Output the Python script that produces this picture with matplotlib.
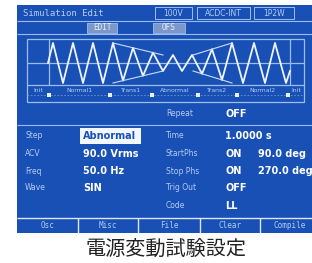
import matplotlib as mpl
import matplotlib.pyplot as plt
from matplotlib.patches import Rectangle

mpl.rcParams['font.family'] = ['DejaVu Sans']

# header / tabs
header_title = 'Simulation Edit'
header_boxes = ['100V', 'ACDC-INT', '1P2W']
mode_boxes = ['EDIT', 'OFS']

# waveform preview: vertices (time, amplitude)
wave_t = [21, 26, 36, 46, 56, 66, 76, 86, 96, 106, 116, 126, 136, 146, 155, 165,
          175, 185, 195, 205, 216, 227, 238, 248, 259, 263]
wave_a = [0.0, 1.0, -1.0, 1.0, -1.0, 1.0, -1.0, 1.0, -0.88, 0.76, -0.64, 0.52, -0.4, 0.4, -0.4, 0.4,
          -0.54, 0.69, -0.85, 1.0, -1.0, 1.0, -1.0, 1.0, -1.0, -0.4]
env_t = [[86, 136], [166, 205]]
env_top = [[1.0, 0.4], [0.4, 1.0]]
env_bot = [[-1.0, -0.4], [-0.4, -1.0]]
seg_names = ['Init', 'Normal1', 'Trans1', 'Abnormal', 'Trans2', 'Normal2', 'Init']
seg_edges = [0, 22, 83, 125, 171, 210, 261, 277]

# parameters
left_labels = ['Step', 'ACV', 'Freq', 'Wave']
left_values = ['Abnormal', '90.0 Vrms', '50.0 Hz', 'SIN']
right_labels = ['Repeat', 'Time', 'StartPhs', 'Stop Phs', 'Trig Out', 'Code']
right_values = ['OFF', '1.0000 s', 'ON', 'ON', 'OFF', 'LL']
right_extra = ['', '', '90.0 deg', '270.0 deg', '', '']
buttons = ['Osc', 'Misc', 'File', 'Clear', 'Compile']
caption = '電源変動試験設定'

BLUE = '#1850b5'
LINE = '#9bbdf0'
LBL = '#b4cdf3'
VAL = '#ffffff'

fig = plt.figure(figsize=(3.12, 2.63), dpi=100)
ax = fig.add_axes([0, 0, 1, 1])
ax.set_xlim(0, 312)
ax.set_ylim(263, 0)
ax.axis('off')

# screen background
ax.add_patch(Rectangle((17, 5), 295, 228, facecolor=BLUE, edgecolor='none'))

# header rows
ax.hlines([20.5, 33.5], 17, 312, color=LINE, lw=0.8)
ax.text(23, 13, header_title, color=LBL, fontsize=6.5, family='DejaVu Sans Mono', va='center')
hx = [(155, 192), (197, 250), (254, 294)]
for (x0, x1), s in zip(hx, header_boxes):
    ax.add_patch(Rectangle((x0, 6.5), x1 - x0, 12.5, facecolor='none', edgecolor=LINE, lw=0.7))
    ax.text((x0 + x1) / 2, 13, s, color=LBL, fontsize=5.5, ha='center', va='center')
mx = [(87, 117), (153, 185)]
for (x0, x1), s in zip(mx, mode_boxes):
    ax.add_patch(Rectangle((x0, 22.5), x1 - x0, 10, facecolor='#7d98c8', edgecolor=LINE, lw=0.6))
    ax.text((x0 + x1) / 2, 27.7, s, color='#e8eefa', fontsize=5.5, ha='center', va='center',
            family='DejaVu Sans Mono')

# waveform panel
ax.add_patch(Rectangle((26.5, 39), 277, 63, facecolor='none', edgecolor=LINE, lw=0.9))
ax.hlines([125], 17, 312, color=LINE, lw=0.8)

wax = fig.add_axes([27 / 312, 1 - 102 / 263, 277 / 312, 63 / 263])
wax.set_xlim(0, 277)
wax.set_ylim(-1.95, 1.2)
wax.axis('off')
wax.axhline(0, color=LINE, lw=0.9)
wax.axhline(-1.1, color=LINE, lw=0.9)
wax.vlines([seg_edges[1], seg_edges[6] + 2], -1.1, 1.2, color=LINE, lw=0.9)
wax.plot(wave_t, wave_a, color='#eef4ff', lw=1.3)
for t, top, bot in zip(env_t, env_top, env_bot):
    wax.plot(t, top, color='#c9dbf8', lw=0.8)
    wax.plot(t, bot, color='#c9dbf8', lw=0.8)
wax.hlines(-1.6, 0, 277, color='#6f93d6', lw=0.6, linestyles=(0, (2, 2)))
wax.plot(seg_edges[1:-1], [-1.6] * (len(seg_edges) - 2), 's', color='#e8f0ff', ms=2.2, mew=0)
for i, name in enumerate(seg_names):
    wax.text((seg_edges[i] + seg_edges[i + 1]) / 2, -1.38, name, color=LBL, fontsize=4.4,
             ha='center', va='center', clip_on=False)

# parameter rows
rows = [136, 154, 171, 188, 206]
for y, lab, val in zip(rows, left_labels, left_values):
    ax.text(25, y, lab, color=LBL, fontsize=5.5, va='center')
    if val == 'Abnormal':
        ax.add_patch(Rectangle((80, y - 8), 61, 16, facecolor='#f2f6ff', edgecolor='none'))
        ax.text(83, y, val, color=BLUE, fontsize=7, fontweight='bold', va='center')
    else:
        ax.text(83, y, val, color=VAL, fontsize=7, fontweight='bold', va='center')

ry = [114] + rows
for y, lab, val, ext in zip(ry, right_labels, right_values, right_extra):
    ax.text(166, y, lab, color=LBL, fontsize=5.5, va='center')
    ax.text(225, y, val, color=VAL, fontsize=7, fontweight='bold', va='center')
    if ext:
        ax.text(258, y, ext, color=VAL, fontsize=7, fontweight='bold', va='center', clip_on=True)

# bottom buttons
ax.hlines(217.5, 17, 312, color='#dfe8f8', lw=1.0)
bx = [17, 78, 138, 200, 260, 320]
ax.vlines(bx[1:-1], 218, 233, color='#dfe8f8', lw=1.0)
for i, b in enumerate(buttons):
    ax.text((bx[i] + bx[i + 1]) / 2, 225.5, b, color=LBL, fontsize=5.5, ha='center', va='center',
            family='DejaVu Sans Mono', clip_on=True)

ax.text(166, 249, caption, fontsize=14.5, ha='center', va='center', color='#222222',
        family=['Noto Sans CJK JP', 'DejaVu Sans'])

plt.savefig('out.png', dpi=100)
plt.close()
